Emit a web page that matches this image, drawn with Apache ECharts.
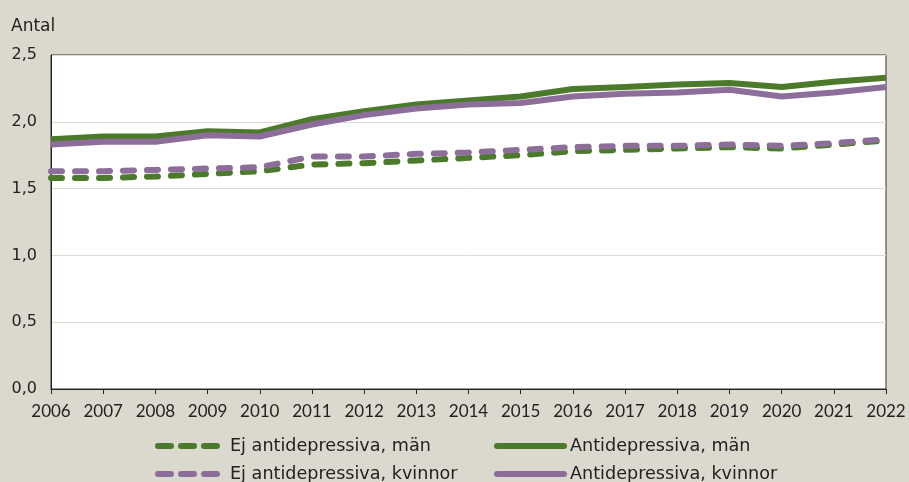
<!DOCTYPE html>
<html>
<head>
<meta charset="utf-8">
<script src="https://cdn.jsdelivr.net/npm/echarts@6/dist/echarts.min.js"></script>
<style>
  html, body { margin: 0; padding: 0; background: #dbd9ce; }
  #chart { width: 909px; height: 482px; }
</style>
</head>
<body>
<div id="chart"></div>
<script>
// år
const years = ['2006','2007','2008','2009','2010','2011','2012','2013','2014','2015','2016','2017','2018','2019','2020','2021','2022']

const ejMan     = [1.58,1.58,1.59,1.61,1.63,1.68,1.69,1.71,1.73,1.75,1.78,1.79,1.80,1.81,1.80,1.83,1.86]
const ejKvinnor = [1.63,1.63,1.64,1.65,1.66,1.74,1.74,1.76,1.77,1.79,1.81,1.82,1.82,1.83,1.82,1.84,1.87]
const adMan     = [1.87,1.89,1.89,1.93,1.92,2.02,2.08,2.13,2.16,2.19,2.245,2.26,2.28,2.29,2.26,2.30,2.33]
const adKvinnor = [1.83,1.85,1.85,1.90,1.89,1.98,2.05,2.10,2.13,2.14,2.19,2.21,2.22,2.24,2.19,2.22,2.26]

const yTicks = [0, 0.5, 1, 1.5, 2, 2.5]

const green = '#4b7a2b'
const purple = '#8d6e9b'
const font = '"DejaVu Sans", sans-serif'
const narrow = 'Lato, "Noto Sans", sans-serif'

const chart = echarts.init(document.getElementById('chart'))

function line(name, data, color, dashed) {
  return {
    name: name,
    type: 'line',
    data: data,
    symbol: 'none',
    lineStyle: {
      color: color,
      width: 6,
      type: dashed ? [11, 13] : 'solid',
      cap: dashed ? 'round' : 'butt',
      join: 'round'
    },
    itemStyle: { color: color },
    emphasis: { disabled: true }
  }
}

// en legend per post
function leg(name, left, top, w, dashed, gap) {
  return {
    left: left, top: top, padding: 0,
    itemWidth: w, itemHeight: 14,
    data: [name],
    itemStyle: { opacity: 0 },
    lineStyle: dashed ? { width: 6, type: [13, 10], cap: 'round' } : { width: 6, cap: 'round' },
    textStyle: { fontSize: 17.6, color: '#222', fontFamily: font, padding: [0, 0, 0, gap] }
  }
}

chart.setOption({
  backgroundColor: '#dbd9ce',
  animation: false,
  textStyle: { fontFamily: font },
  title: {
    text: 'Antal',
    left: 6,
    top: 13,
    textStyle: { fontSize: 17, fontWeight: 'normal', color: '#222', fontFamily: font }
  },
  grid: {
    left: 51, right: 23, top: 55, bottom: 93,
    show: true,
    backgroundColor: '#fff',
    borderColor: '#333',
    borderWidth: 1
  },
  legend: [
    leg('Ej antidepressiva, män', 155, 437, 61, true, 6),
    leg('Ej antidepressiva, kvinnor', 155, 465, 61, true, 6),
    leg('Antidepressiva, män', 494, 437, 67, false, 1),
    leg('Antidepressiva, kvinnor', 494, 465, 67, false, 1)
  ],
  xAxis: {
    type: 'category',
    data: years,
    boundaryGap: false,
    axisLine: { lineStyle: { color: '#222', width: 1 } },
    axisTick: { show: true, length: 5, lineStyle: { color: '#222' } },
    axisLabel: { fontSize: 17, color: '#222', margin: 14, interval: 0, fontFamily: narrow }
  },
  yAxis: {
    type: 'value',
    min: yTicks[0],
    max: yTicks[yTicks.length - 1],
    interval: 0.5,
    axisLine: { show: true, lineStyle: { color: '#222', width: 1 } },
    axisTick: { show: false },
    splitLine: { lineStyle: { color: '#dcd9cf', width: 1 } },
    axisLabel: {
      fontSize: 16, color: '#222', margin: 14, fontFamily: font,
      formatter: v => v.toFixed(1).replace('.', ',')
    }
  },
  series: [
    line('Ej antidepressiva, män', ejMan, green, true),
    line('Antidepressiva, män', adMan, green, false),
    line('Ej antidepressiva, kvinnor', ejKvinnor, purple, true),
    line('Antidepressiva, kvinnor', adKvinnor, purple, false)
  ]
})
</script>
</body>
</html>
